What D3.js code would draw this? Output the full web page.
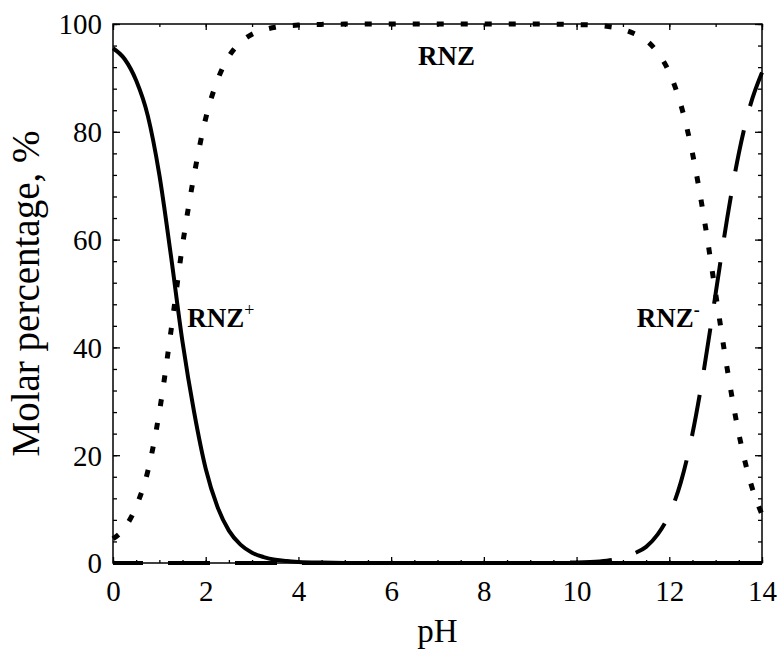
<!DOCTYPE html>
<html>
<head>
<meta charset="utf-8">
<script src="https://cdn.jsdelivr.net/npm/d3@7"></script>
<style>
  html, body { margin: 0; padding: 0; background: #fff; }
  svg { display: block; }
  text { font-family: "Liberation Serif", "Times New Roman", serif; fill: #000; }
</style>
</head>
<body>
<svg id="chart" width="782" height="662"></svg>
<script>
// pH grid shared by all three species curves
const pH = [0, 0.25, 0.5, 0.75, 1.0, 1.25, 1.5, 1.75, 2.0, 2.25, 2.5, 2.75, 3.0, 3.25, 3.5, 3.75, 4.0,
            4.5, 5, 6, 7, 8, 9, 10, 10.5, 11, 11.25, 11.5, 11.75, 12, 12.25, 12.5, 12.75, 13, 13.25, 13.5, 13.75, 14];

// Molar percentage of the cationic form RNZ+
const rnzCation = [95.5, 93.5, 89.5, 83, 72, 57, 41, 28, 17.5, 10.5, 6, 3.4, 1.9, 1.1, 0.6, 0.35, 0.2,
                   0.07, 0.02, 0, 0, 0, 0, 0, 0, 0, 0, 0, 0, 0, 0, 0, 0, 0, 0, 0, 0, 0];

// Molar percentage of the neutral form RNZ
const rnzNeutral = [4.5, 6.5, 10.5, 17, 28, 43, 59, 72, 82.5, 89.5, 94, 96.6, 98.1, 98.9, 99.4, 99.65, 99.8,
                    99.93, 99.98, 100, 100, 100, 100, 99.9, 99.7, 99, 98.2, 97, 94.7, 91, 85, 76, 64, 50, 36, 24, 15, 9];

// Molar percentage of the anionic form RNZ-
const rnzAnion = [0, 0, 0, 0, 0, 0, 0, 0, 0, 0, 0, 0, 0, 0, 0, 0, 0,
                  0, 0, 0, 0, 0, 0, 0.1, 0.3, 1, 1.8, 3, 5.3, 9, 15, 24, 36, 50, 64, 76, 85, 91];

const xMajor = [0, 2, 4, 6, 8, 10, 12, 14];
const yMajor = [0, 20, 40, 60, 80, 100];

const speciesLabels = [
  { base: "RNZ", sup: "+", x: 1.6, y: 43.8 },
  { base: "RNZ", sup: "",  x: 6.58, y: 92.4 },
  { base: "RNZ", sup: "-", x: 11.3, y: 43.8 }
];

const svg = d3.select("#chart");
const margin = { left: 113, right: 20, top: 24, bottom: 99 };
const W = 782, H = 662;

const x = d3.scaleLinear().domain([0, 14]).range([margin.left, W - margin.right]);
const y = d3.scaleLinear().domain([0, 100]).range([H - margin.bottom, margin.top]);

const plot = svg.append("g");

// Frame with inward ticks on every side
const tickStyle = g => {
  g.selectAll(".domain").remove();
  g.selectAll("line").attr("stroke", "#000").attr("stroke-width", 1.3);
};

// bottom: majors every 2, minors every 0.5
svg.append("g").attr("transform", `translate(0,${y(0)})`)
  .call(d3.axisBottom(x).tickValues(d3.range(0, 14.01, 0.5)).tickSize(-3).tickFormat(""))
  .call(tickStyle);
svg.append("g").attr("transform", `translate(0,${y(0)})`)
  .call(d3.axisBottom(x).tickValues(xMajor).tickSize(-6).tickPadding(17).tickFormat(d3.format("d")))
  .call(tickStyle)
  .call(g => g.selectAll("text").attr("font-size", 29).attr("dy", "0.71em"));

// top: majors every 2, minors every 1
svg.append("g").attr("transform", `translate(0,${y(100)})`)
  .call(d3.axisTop(x).tickValues(d3.range(0, 14.01, 1)).tickSize(-3).tickFormat(""))
  .call(tickStyle);
svg.append("g").attr("transform", `translate(0,${y(100)})`)
  .call(d3.axisTop(x).tickValues(xMajor).tickSize(-6).tickFormat(""))
  .call(tickStyle);

// left and right: majors every 20, minors every 4
svg.append("g").attr("transform", `translate(${x(0)},0)`)
  .call(d3.axisLeft(y).tickValues(d3.range(0, 100.01, 4)).tickSize(-4).tickFormat(""))
  .call(tickStyle);
svg.append("g").attr("transform", `translate(${x(0)},0)`)
  .call(d3.axisLeft(y).tickValues(yMajor).tickSize(-7).tickPadding(11).tickFormat(d3.format("d")))
  .call(tickStyle)
  .call(g => g.selectAll("text").attr("font-size", 29).attr("dy", "0.34em"));
svg.append("g").attr("transform", `translate(${x(14)},0)`)
  .call(d3.axisRight(y).tickValues(d3.range(0, 100.01, 4)).tickSize(-4).tickFormat(""))
  .call(tickStyle);
svg.append("g").attr("transform", `translate(${x(14)},0)`)
  .call(d3.axisRight(y).tickValues(yMajor).tickSize(-7).tickFormat(""))
  .call(tickStyle);

// plot frame
svg.append("rect")
  .attr("x", x(0)).attr("y", y(100))
  .attr("width", x(14) - x(0)).attr("height", y(0) - y(100))
  .attr("fill", "none").attr("stroke", "#000").attr("stroke-width", 1.5);

// Species curves
const line = vals => d3.line()
  .x((d, i) => x(pH[i]))
  .y(d => y(d))
  .curve(d3.curveMonotoneX)(vals);

plot.append("path").attr("d", line(rnzCation))
  .attr("fill", "none").attr("stroke", "#000").attr("stroke-width", 4);

plot.append("path").attr("d", line(rnzNeutral))
  .attr("fill", "none").attr("stroke", "#000").attr("stroke-width", 5)
  .attr("stroke-dasharray", "7,17");

plot.append("path").attr("d", line(rnzAnion))
  .attr("fill", "none").attr("stroke", "#000").attr("stroke-width", 4)
  .attr("stroke-dasharray", "42,25").attr("stroke-dashoffset", 12);

// Species labels
speciesLabels.forEach(l => {
  const t = svg.append("text")
    .attr("x", x(l.x)).attr("y", y(l.y))
    .attr("font-size", 27).attr("font-weight", "bold");
  t.append("tspan").text(l.base);
  if (l.sup) {
    t.append("tspan").text(l.sup).attr("font-size", 18).attr("dy", -11)
      .attr("font-weight", l.sup === "+" ? "normal" : "bold");
  }
});

// Axis titles
svg.append("text")
  .attr("x", (x(0) + x(14)) / 2).attr("y", 642)
  .attr("text-anchor", "middle").attr("font-size", 33)
  .text("pH");

svg.append("text")
  .attr("transform", `translate(39,${(y(0) + y(100)) / 2}) rotate(-90)`)
  .attr("text-anchor", "middle").attr("font-size", 39)
  .text("Molar percentage, %");
</script>
</body>
</html>
